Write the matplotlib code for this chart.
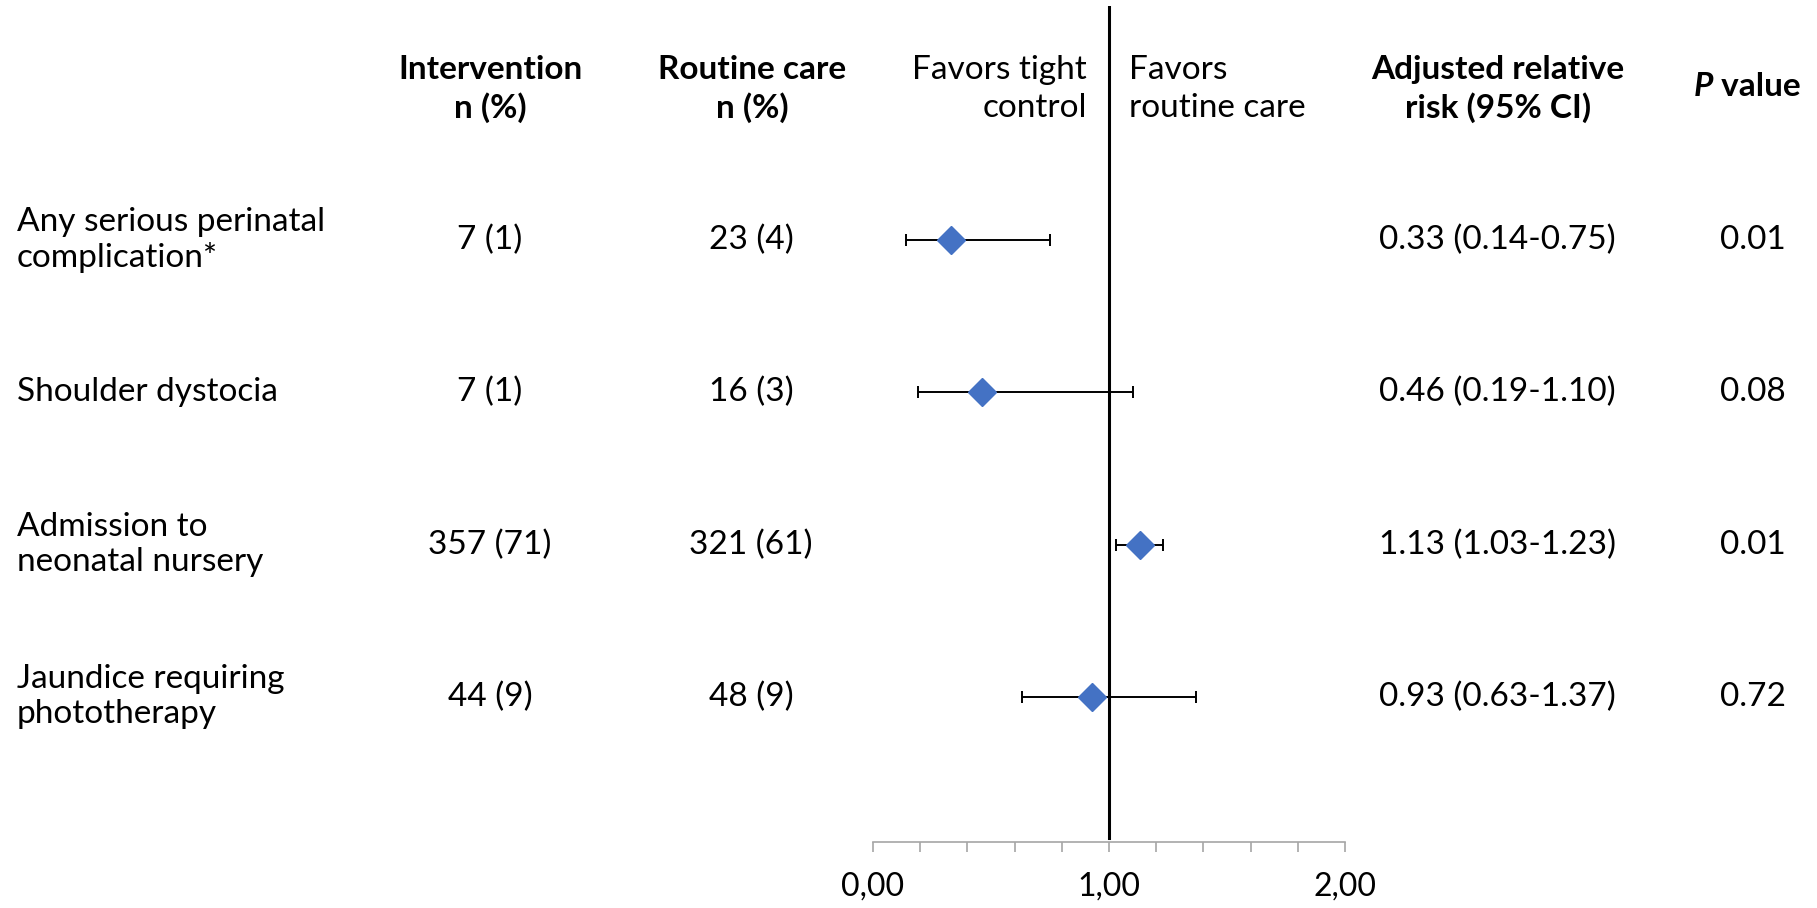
import matplotlib
matplotlib.use("Agg")
import matplotlib.pyplot as plt
from matplotlib import transforms

plt.rcParams['font.family'] = ['Lato', 'DejaVu Sans']

outcomes = ["Any serious perinatal\ncomplication*", "Shoulder dystocia",
            "Admission to\nneonatal nursery", "Jaundice requiring\nphototherapy"]
intervention = ["7 (1)", "7 (1)", "357 (71)", "44 (9)"]
routine = ["23 (4)", "16 (3)", "321 (61)", "48 (9)"]
rr = [0.33, 0.46, 1.13, 0.93]
lo = [0.14, 0.19, 1.03, 0.63]
hi = [0.75, 1.10, 1.23, 1.37]
pvals = ["0.01", "0.08", "0.01", "0.72"]
xticklabels = ["0,00", "1,00", "2,00"]
xticks = [0, 1, 2]

W, H = 1817, 908
fig = plt.figure(figsize=(W / 100, H / 100), dpi=100)
ax = fig.add_axes([873 / W, 1 - 842 / H, (1345 - 873) / W, (842 - 6) / H])

rows = list(range(len(outcomes)))
ax.set_xlim(0, 2)
ax.set_ylim(3.953, -1.536)

err_lo = [r - l for r, l in zip(rr, lo)]
err_hi = [h - r for r, h in zip(rr, hi)]
ax.errorbar(rr, rows, xerr=[err_lo, err_hi], fmt='none', ecolor='black',
            elinewidth=1.4, capsize=4.3, capthick=1.4, zorder=2)
ax.plot(rr, rows, 'D', color='#4472C4', markersize=14, zorder=3, linestyle='none')
ax.axvline(1, color='black', lw=2.2, ymin=0.005, ymax=1, zorder=1)

for s in ['top', 'right', 'left']:
    ax.spines[s].set_visible(False)
ax.spines['bottom'].set_color('#A6A6A6')
ax.spines['bottom'].set_linewidth(1.2)
ax.set_yticks([])
ax.set_xticks(xticks)
ax.set_xticklabels(xticklabels, fontsize=23)
ax.set_xticks([i * 0.2 for i in range(11)], minor=True)
ax.tick_params(axis='x', which='both', direction='out', length=7.5, width=1.2,
               color='#A6A6A6', pad=14)
ax.patch.set_alpha(0)

tr = transforms.blended_transform_factory(fig.transFigure, ax.transData)
fs = 24
ls_rows = 1.22
ls_head = 1.34

def fx(px):
    return px / W

for i in rows:
    ax.text(fx(17), i, outcomes[i], transform=tr, ha='left', va='center', fontsize=fs,
            linespacing=ls_rows)
    ax.text(fx(490), i, intervention[i], transform=tr, ha='center', va='center', fontsize=fs)
    ax.text(fx(751), i, routine[i], transform=tr, ha='center', va='center', fontsize=fs)
    ax.text(fx(1497), i, f"{rr[i]:.2f} ({lo[i]:.2f}-{hi[i]:.2f})", transform=tr,
            ha='center', va='center', fontsize=fs)
    ax.text(fx(1753), i, pvals[i], transform=tr, ha='center', va='center', fontsize=fs)

hy = 1 - 89 / H
fig.text(fx(490), hy, "Intervention\nn (%)", ha='center', va='center', fontsize=fs,
         fontweight='bold', linespacing=ls_head)
fig.text(fx(752), hy, "Routine care\nn (%)", ha='center', va='center', fontsize=fs,
         fontweight='bold', linespacing=ls_head)
fig.text(fx(1087), hy, "Favors tight\ncontrol", ha='right', va='center', fontsize=fs,
         linespacing=ls_head, multialignment='right')
fig.text(fx(1129), hy, "Favors\nroutine care", ha='left', va='center', fontsize=fs,
         linespacing=ls_head)
fig.text(fx(1498), hy, "Adjusted relative\nrisk (95% CI)", ha='center', va='center',
         fontsize=fs, fontweight='bold', linespacing=ls_head)
tp = fig.text(fx(1694), 1 - 86 / H, "P", ha='left', va='center', fontsize=fs,
              fontweight='bold', fontstyle='italic')
ax.annotate(" value", xy=(1, 0), xycoords=tp, ha='left', va='bottom', fontsize=fs,
            fontweight='bold', annotation_clip=False)

fig.savefig("out.png", dpi=100)
